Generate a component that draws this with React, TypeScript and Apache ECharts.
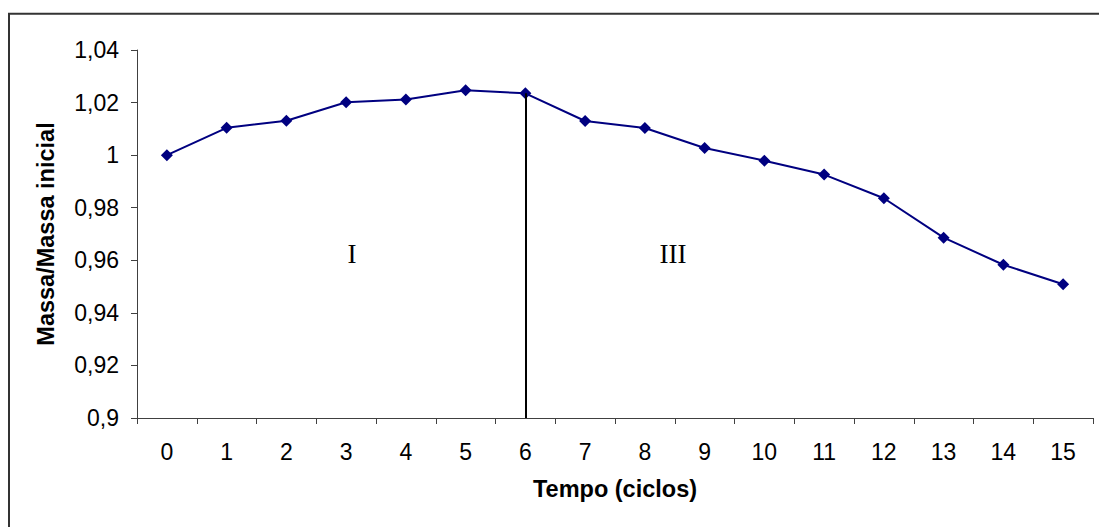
import React, { useEffect, useRef } from "react";
import * as echarts from "echarts";

const categories = ["0", "1", "2", "3", "4", "5", "6", "7", "8", "9", "10", "11", "12", "13", "14", "15"];
const massRatio = [1.0, 1.0104, 1.0131, 1.0201, 1.0212, 1.0247, 1.0235, 1.013, 1.0103, 1.0027, 0.9979, 0.9926, 0.9836, 0.9686, 0.9583, 0.9509];
const dividerIndex = 6;
const yMin = 0.9;
const yMax = 1.04;
const yStep = 0.02;
const regionLabels = ["I", "III"];

const fmt = (v: number) => String(+v.toFixed(2)).replace(".", ",");

export default function App() {
  const ref = useRef<HTMLDivElement>(null);
  useEffect(() => {
    if (!ref.current) return;
    document.body.style.margin = "0";
    document.body.style.overflow = "hidden";
    const chart = echarts.init(ref.current, undefined, { renderer: "svg" });
    chart.setOption({
      animation: false,
      backgroundColor: "#ffffff",
      grid: { left: 137, top: 50, right: 6, bottom: 109, containLabel: false },
      xAxis: {
        type: "category",
        data: categories,
        boundaryGap: true,
        name: "Tempo (ciclos)",
        nameLocation: "middle",
        nameGap: 59,
        nameTextStyle: { fontFamily: "Liberation Sans, Arial", fontWeight: "bold", fontSize: 23.5, color: "#000" },
        axisLine: { lineStyle: { color: "#404040", width: 1 } },
        axisTick: { show: true, length: 6, alignWithLabel: false, lineStyle: { color: "#404040" } },
        axisLabel: { fontFamily: "Liberation Sans, Arial", fontSize: 23, color: "#000", margin: 22, interval: 0 },
        splitLine: { show: false },
      },
      yAxis: {
        type: "value",
        min: yMin,
        max: yMax,
        interval: yStep,
        name: "Massa/Massa inicial",
        nameLocation: "middle",
        nameGap: 79,
        nameTextStyle: { fontFamily: "Liberation Sans, Arial", fontWeight: "bold", fontSize: 23.5, color: "#000" },
        axisLine: { show: true, lineStyle: { color: "#404040", width: 1 } },
        axisTick: { show: true, length: 6, lineStyle: { color: "#404040" } },
        axisLabel: { fontFamily: "Liberation Sans, Arial", fontSize: 23, color: "#000", margin: 18, formatter: (v: number) => fmt(v) },
        splitLine: { show: false },
      },
      series: [
        {
          type: "line",
          data: massRatio,
          symbol: "diamond",
          symbolSize: 12,
          lineStyle: { color: "#000080", width: 2 },
          itemStyle: { color: "#000080" },
          markLine: {
            silent: true,
            symbol: "none",
            label: { show: false },
            lineStyle: { color: "#000", width: 2, type: "solid" },
            data: [[
              { coord: [dividerIndex, massRatio[dividerIndex]] },
              { coord: [dividerIndex, yMin] },
            ]],
          },
          z: 3,
        },
      ],
      graphic: [
        {
          type: "polyline",
          shape: { points: [[9, 540], [9, 13.7], [1110, 13.7]] },
          style: { fill: "none", stroke: "#333", lineWidth: 2 },
          silent: true,
        },
        {
          type: "text",
          x: 352,
          y: 254,
          style: { text: regionLabels[0], font: "27px 'Liberation Serif', 'Times New Roman', serif", fill: "#000", align: "center", verticalAlign: "middle" },
        },
        {
          type: "text",
          x: 673,
          y: 254,
          style: { text: regionLabels[1], font: "27px 'Liberation Serif', 'Times New Roman', serif", fill: "#000", align: "center", verticalAlign: "middle" },
        },
      ],
    });
    return () => chart.dispose();
  }, []);
  return <div ref={ref} style={{ width: 1099, height: 527 }} />;
}
